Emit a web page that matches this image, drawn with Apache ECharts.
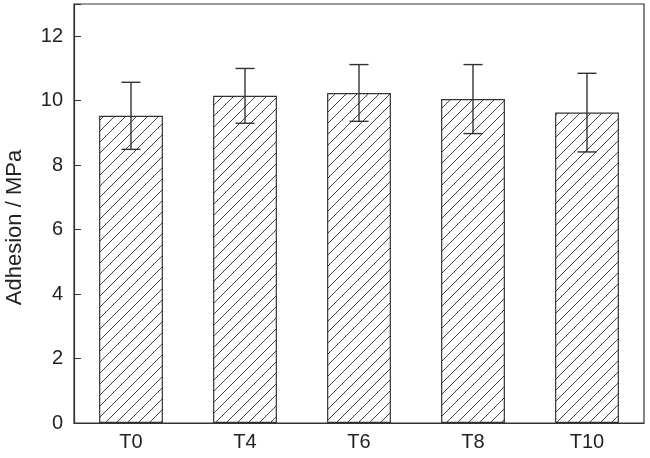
<!DOCTYPE html>
<html>
<head>
<meta charset="utf-8">
<script src="https://cdn.jsdelivr.net/npm/echarts@6/dist/echarts.min.js"></script>
<style>html,body{margin:0;padding:0;background:#fff}#c{width:650px;height:458px}</style>
</head>
<body>
<div id="c"></div>
<script>
var categories = ['T0', 'T4', 'T6', 'T8', 'T10'];
var adhesion = [9.53, 10.15, 10.24, 10.05, 9.63];
var errors = [1.04, 0.85, 0.88, 1.07, 1.22];
var yTicks = [0, 2, 4, 6, 8, 10, 12];

function makeHatch() {
  var s = 11;
  var cv = document.createElement('canvas');
  cv.width = s; cv.height = s;
  var ctx = cv.getContext('2d');
  ctx.fillStyle = '#ffffff';
  ctx.fillRect(0, 0, s, s);
  ctx.strokeStyle = '#444';
  ctx.lineWidth = 1;
  ctx.beginPath();
  ctx.moveTo(-1, s + 1); ctx.lineTo(s + 1, -1);
  ctx.moveTo(-1, 1); ctx.lineTo(1, -1);
  ctx.moveTo(s - 1, s + 1); ctx.lineTo(s + 1, s - 1);
  ctx.stroke();
  return cv;
}

var errData = categories.map(function (c, i) {
  return [i, adhesion[i] - errors[i], adhesion[i] + errors[i]];
});

var chart = echarts.init(document.getElementById('c'), null, {renderer: 'canvas'});
var font = 'Liberation Sans, Arial, sans-serif';
chart.setOption({
  animation: false,
  grid: {left: 74, right: 6, top: 4, bottom: 35, show: true, borderColor: '#333', borderWidth: 1.2,
         outerBoundsMode: 'none', containLabel: false},
  xAxis: {
    type: 'category',
    data: categories,
    axisLine: {lineStyle: {color: '#333', width: 1.2}},
    axisTick: {inside: true, alignWithLabel: true, length: 7, lineStyle: {color: '#333'}},
    axisLabel: {color: '#222', fontSize: 20, fontFamily: font, margin: 9}
  },
  yAxis: {
    type: 'value',
    min: 0, max: 13, interval: 2,
    name: 'Adhesion / MPa',
    nameLocation: 'middle',
    nameGap: 48,
    nameTextStyle: {color: '#222', fontSize: 22, fontFamily: font, padding: [0, 28, 0, 0]},
    splitLine: {show: false},
    axisLine: {show: true, lineStyle: {color: '#333', width: 1.2}},
    axisTick: {show: true, inside: true, length: 7, lineStyle: {color: '#333'}},
    axisLabel: {
      color: '#222', fontSize: 20, fontFamily: font, margin: 11,
      formatter: function (v) { return yTicks.indexOf(v) >= 0 ? String(v) : ''; }
    }
  },
  series: [{
    type: 'bar',
    data: adhesion,
    barWidth: '56%',
    itemStyle: {color: {image: makeHatch(), repeat: 'repeat'}, borderColor: '#333', borderWidth: 1.2}
  }, {
    type: 'custom',
    data: errData,
    z: 10,
    renderItem: function (params, api) {
      var x = api.value(0);
      var lo = api.coord([x, api.value(1)]);
      var hi = api.coord([x, api.value(2)]);
      var hw = 9.5;
      var st = {stroke: '#333', lineWidth: 1.4};
      return {
        type: 'group',
        children: [
          {type: 'line', shape: {x1: lo[0], y1: lo[1], x2: hi[0], y2: hi[1]}, style: st},
          {type: 'line', shape: {x1: hi[0] - hw, y1: hi[1], x2: hi[0] + hw, y2: hi[1]}, style: st},
          {type: 'line', shape: {x1: lo[0] - hw, y1: lo[1], x2: lo[0] + hw, y2: lo[1]}, style: st}
        ]
      };
    }
  }]
});
</script>
</body>
</html>
